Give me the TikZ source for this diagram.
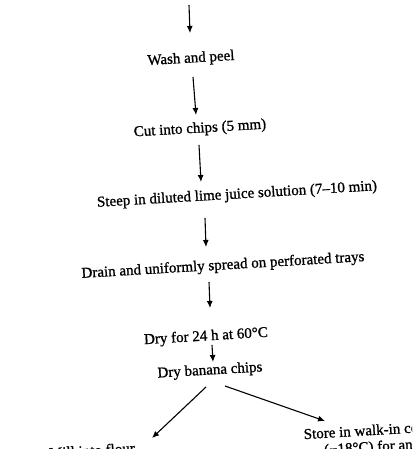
\documentclass[tikz,border=0pt]{standalone}
\usepackage{fontspec}
\setmainfont{Liberation Serif}[FakeBold=1]
\usetikzlibrary{arrows.meta}
\begin{document}
\begin{tikzpicture}[x=1pt,y=-1pt,
  lbl/.style={font=\fontsize{15}{17}\selectfont, inner sep=0pt, text height=10pt, text depth=3pt, rotate=3.4},
  lbltwo/.style={font=\fontsize{15}{16.5}\selectfont, inner sep=0pt, rotate=3.4, align=center},
  arr/.style={line width=1.1pt, -{Latex[length=7pt,width=6pt]}}]
\useasboundingbox (0,0) rectangle (412,449);
\clip (0,0) rectangle (412,449);
\node[lbl] (wash) at (191,59) {Wash and peel};
\node[lbl] (cut) at (200,129) {Cut into chips (5 mm)};
\node[lbl] (steep) at (237,195) {Steep in diluted lime juice solution (7--10 min)};
\node[lbl] (drain) at (223,266) {Drain and uniformly spread on perforated trays};
\node[lbl] (dryfor) at (206,337) {Dry for 24 h at 60°C};
\node[lbl] (banana) at (210,371) {Dry banana chips};
\node[lbl] (mill) at (92,452) {Mill into flour};
\node[lbltwo] (store) at (385,439) {Store in walk-in cold room\\(−18°C) for analysis};
\coordinate (top) at (189,5);
\draw[arr] (top) -- ([xshift=-1pt,yshift=26pt]wash.center);
\draw[arr] ([xshift=2pt,yshift=-18pt]wash.center) -- ([xshift=-4pt,yshift=14pt]cut.center);
\draw[arr] ([xshift=-1pt,yshift=-16pt]cut.center) -- ([xshift=-36pt,yshift=13pt]steep.center);
\draw[arr] ([xshift=-32pt,yshift=-23pt]steep.center) -- ([xshift=-17pt,yshift=19pt]drain.center);
\draw[arr] ([xshift=-14pt,yshift=-16pt]drain.center) -- ([xshift=4pt,yshift=29pt]dryfor.center);
\draw[arr] ([xshift=6pt,yshift=-8pt]dryfor.center) -- ([xshift=3pt,yshift=9pt]banana.center);
\draw[arr] ([xshift=-4pt,yshift=-16pt]banana.center) -- ([xshift=60pt,yshift=14pt]mill.center);
\draw[arr] ([xshift=15pt,yshift=-15pt]banana.center) -- ([xshift=-60pt,yshift=18pt]store.center);
\end{tikzpicture}
\end{document}
